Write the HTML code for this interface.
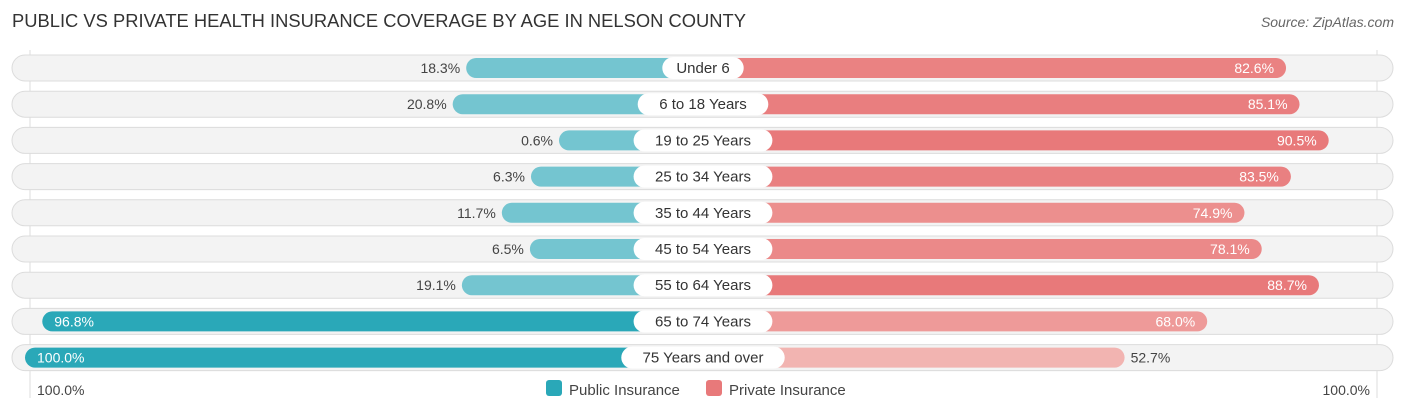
<!DOCTYPE html>
<html><head><meta charset="utf-8"><style>
body{margin:0;background:#fff;font-family:"Liberation Sans",sans-serif;}
svg text{font-family:"Liberation Sans",sans-serif;}
</style></head><body>
<svg id="c" width="1406" height="414" xmlns="http://www.w3.org/2000/svg">
<text x="12" y="27" font-size="18" fill="#333" textLength="734" lengthAdjust="spacingAndGlyphs">PUBLIC VS PRIVATE HEALTH INSURANCE COVERAGE BY AGE IN NELSON COUNTY</text>
<text x="1394" y="27" font-size="14" fill="#666" font-style="italic" text-anchor="end">Source: ZipAtlas.com</text>
<line x1="30" y1="50" x2="30" y2="398" stroke="#ddd"/>
<line x1="1377" y1="50" x2="1377" y2="398" stroke="#ddd"/>
<g id="rows"></g>
<text x="37" y="395" font-size="14" fill="#444">100.0%</text>
<text x="1370" y="395" font-size="14" fill="#444" text-anchor="end">100.0%</text>
<g>
<rect x="546" y="380" width="16" height="16" rx="3" fill="#2aa8b8"/>
<text x="569" y="395" font-size="15" fill="#444">Public Insurance</text>
<rect x="706" y="380" width="16" height="16" rx="3" fill="#e8797a"/>
<text x="729" y="395" font-size="15" fill="#444">Private Insurance</text>
</g>
</svg>
<script>
const categories=["Under 6","6 to 18 Years","19 to 25 Years","25 to 34 Years","35 to 44 Years","45 to 54 Years","55 to 64 Years","65 to 74 Years","75 Years and over"];
const publicValues=[18.3,20.8,0.6,6.3,11.7,6.5,19.1,96.8,100.0];
const privateValues=[82.6,85.1,90.5,83.5,74.9,78.1,88.7,68.0,52.7];
const NS="http://www.w3.org/2000/svg";
const g=document.getElementById('rows');
const K=5.4, leftZero=565, rightZero=840, cx=703;
const xl=v=>leftZero-v*K, xr=v=>rightZero+v*K;
const yc=i=>68+i*36.2;
function mk(t,a){const e=document.createElementNS(NS,t);for(const k in a)e.setAttribute(k,a[k]);g.appendChild(e);return e;}
function mix(a,b,t){const p=s=>[1,3,5].map(i=>parseInt(s.substr(i,2),16));const A=p(a),B=p(b);return 'rgb('+A.map((v,i)=>Math.round(v+(B[i]-v)*t)).join(',')+')';}
categories.forEach((cat,i)=>{
 const y=yc(i);
 const bg=mk('rect',{x:12,y:y-13,width:1381,height:26,rx:13,fill:'#f3f3f3',stroke:'#dcdcdc'});
 
 
 const pv=publicValues[i], rv=privateValues[i];
 const x0=Math.min(xl(pv),leftZero-6);
 const pb=mk('rect',{x:x0,y:y-10,width:cx-x0,height:20,rx:10,fill:pv>50?'#2aa8b8':'#74c5d0'});
 
 
 const x1=Math.max(xr(rv),rightZero+6);
 const rb=mk('rect',{x:cx,y:y-10,width:x1-cx,height:20,rx:10,fill:mix('#f3b8b5','#e8797a',Math.max(0,Math.min(1,(rv-50)/38)))});
 
 
 let pt;
 if(pv>50){pt=mk('text',{x:x0+12,y:y+5,'font-size':14,fill:'#fff'});}
 else{pt=mk('text',{x:x0-6,y:y+5,'font-size':14,fill:'#444','text-anchor':'end'});}
 pt.textContent=pv.toFixed(1)+'%';
 
 
 let rt;
 if(rv>60){rt=mk('text',{x:x1-12,y:y+5,'font-size':14,fill:'#fff','text-anchor':'end'});}
 else{rt=mk('text',{x:x1+6,y:y+5,'font-size':14,fill:'#444'});}
 rt.textContent=rv.toFixed(1)+'%';
 
 
 const w=cat.length*8.2+24;
 const lb=mk('rect',{x:cx-w/2,y:y-11,width:w,height:22,rx:11,fill:'#fff'});
 
 
 const lt=mk('text',{x:cx,y:y+5,'font-size':15,fill:'#333','text-anchor':'middle'});
 lt.textContent=cat;
 
 
});
</script>
</body></html>
